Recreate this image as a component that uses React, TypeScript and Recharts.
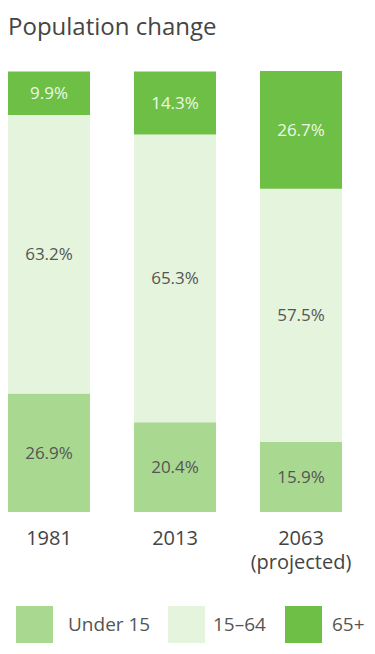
import React from "react";
import { BarChart, Bar, XAxis, YAxis, LabelList } from "recharts";

const years = ["1981", "2013", "2063"];
const yearNotes = ["", "", "(projected)"];
const under15 = [26.9, 20.4, 15.9];
const working = [63.2, 65.3, 57.5];
const over65 = [9.9, 14.3, 26.7];

const seriesNames = ["Under 15", "15–64", "65+"];
const colors = ["#a9d891", "#e5f4dd", "#6dbf45"];

const data = years.map((year, i) => ({
  year,
  under15: under15[i],
  working: working[i],
  over65: over65[i],
}));

const font = "'Open Sans', sans-serif";

function YearTick(props: any) {
  const { x, y, payload, index } = props;
  const note = yearNotes[index];
  return (
    <text
      x={x}
      y={y}
      textAnchor="middle"
      fill="#444"
      fontSize={20}
      fontFamily={font}
    >
      <tspan x={x} y={y + 33}>
        {payload.value}
      </tspan>
      {note ? (
        <tspan x={x} y={y + 57}>
          {note}
        </tspan>
      ) : null}
    </text>
  );
}

const pct = (v: any) => `${v}%`;

// legend square left edges and label left edges (px)
const legendBox = [16, 168, 285];
const legendText = [68, 213, 332];

export default function App() {
  return (
    <div
      style={{
        position: "relative",
        width: 375,
        height: 654,
        margin: -8,
        background: "#fff",
        fontFamily: font,
        overflow: "hidden",
      }}
    >
      <div
        style={{
          position: "absolute",
          left: 8,
          top: 10,
          fontSize: 24,
          color: "#454545",
          lineHeight: "32px",
          whiteSpace: "nowrap",
        }}
      >
        Population change
      </div>

      <div style={{ position: "absolute", left: -14, top: 0 }}>
        <BarChart
          width={378}
          height={600}
          data={data}
          margin={{ top: 71, right: 0, bottom: 28, left: 0 }}
        >
          <XAxis
            dataKey="year"
            axisLine={false}
            tickLine={false}
            tickSize={0}
            tickMargin={0}
            height={60}
            interval={0}
            tick={<YearTick />}
          />
          <YAxis hide domain={[0, 100]} />
          <Bar
            dataKey="under15"
            stackId="a"
            fill={colors[0]}
            barSize={82}
            isAnimationActive={false}
          >
            <LabelList
              dataKey="under15"
              position="center"
              formatter={pct}
              fill="#555"
              fontSize={17}
              fontFamily={font}
            />
          </Bar>
          <Bar
            dataKey="working"
            stackId="a"
            fill={colors[1]}
            barSize={82}
            isAnimationActive={false}
          >
            <LabelList
              dataKey="working"
              position="center"
              formatter={pct}
              fill="#555"
              fontSize={17}
              fontFamily={font}
            />
          </Bar>
          <Bar
            dataKey="over65"
            stackId="a"
            fill={colors[2]}
            barSize={82}
            isAnimationActive={false}
          >
            <LabelList
              dataKey="over65"
              position="center"
              formatter={pct}
              fill="#eef8e8"
              fontSize={17}
              fontFamily={font}
            />
          </Bar>
        </BarChart>
      </div>

      {seriesNames.map((name, i) => (
        <React.Fragment key={name}>
          <div
            style={{
              position: "absolute",
              left: legendBox[i],
              top: 606,
              width: 37,
              height: 37,
              background: colors[i],
            }}
          />
          <div
            style={{
              position: "absolute",
              left: legendText[i],
              top: 611,
              fontSize: 19,
              lineHeight: "27px",
              color: "#555",
              whiteSpace: "nowrap",
            }}
          >
            {name}
          </div>
        </React.Fragment>
      ))}
    </div>
  );
}
